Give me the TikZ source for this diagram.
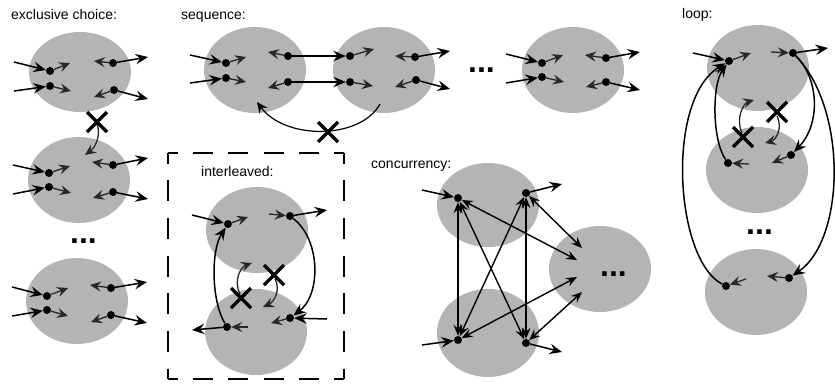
\documentclass[tikz,border=0pt]{standalone}
\usepackage{fontspec}
\setmainfont{Liberation Sans}
\usetikzlibrary{shapes.geometric,arrows.meta}
\definecolor{blobgray}{RGB}{179,181,179}
\definecolor{shortgray}{RGB}{40,40,40}
\tikzset{
  blob/.style={ellipse,fill=blobgray,inner sep=0pt,minimum width=102pt,minimum height=86pt},
  ptdot/.style={circle,fill=black,inner sep=0pt,minimum size=8pt},
  arr/.style={line width=1.5pt,-{Stealth[length=12.5pt,width=10.5pt,inset=4.5pt]}},
  sarr/.style={line width=1.3pt,draw=shortgray,-{Stealth[length=11pt,width=10pt,inset=4pt]}},
  barr/.style={line width=1.4pt,{Stealth[length=11pt,width=9pt,inset=4pt]}-{Stealth[length=11pt,width=9pt,inset=4pt]}},
  lbl/.style={font=\fontsize{14}{16}\selectfont,anchor=base west,inner sep=0pt},
  ellip/.style={font=\fontsize{32}{32}\selectfont\bfseries,anchor=base west,inner sep=0pt},
  xmark/.pic={\draw[line width=3.3pt] (-10,-10)--(10,10) (-10,10)--(10,-10);}
}
\begin{document}
\begin{tikzpicture}[x=1pt,y=-1pt]
\useasboundingbox (0,0) rectangle (835,383);
% ---------- blobs ----------
\node[blob,minimum height=80pt] (E1) at (80,72) {};
\node[blob] (E2) at (79,180) {};
\node[blob] (E3) at (77,301) {};
\node[blob] (S1) at (255,70) {};
\node[blob] (S2) at (384,70) {};
\node[blob] (S3) at (573,70) {};
\node[blob] (I1) at (257,230) {};
\node[blob] (I2) at (256,332) {};
\node[blob,minimum height=84pt] (C1) at (488,205) {};
\node[blob,minimum height=88pt] (C2) at (488,333) {};
\node[blob] (C3) at (600,269) {};
\node[blob] (L1) at (758,68) {};
\node[blob] (L2) at (757,170) {};
\node[blob] (L3) at (756,292) {};
% ---------- labels ----------
\node[lbl] (tEx) at (11,19) {exclusive choice:};
\node[lbl] (tSeq) at (181,19) {sequence:};
\node[lbl] (tLoop) at (682,18) {loop:};
\node[lbl] (tInt) at (201,176) {interleaved:};
\node[lbl] (tCon) at (371,168) {concurrency:};
\node[ellip] (dE) at (70,243) {...};
\node[ellip] (dS) at (468,72) {...};
\node[ellip] (dL) at (746,234) {...};
\node[ellip] (dC) at (600,276) {...};
% ---------- exclusive choice ----------
\node[ptdot] (a1) at (50,71) {};
\node[ptdot] (a2) at (50,86) {};
\node[ptdot] (a3) at (113,63) {};
\node[ptdot] (a4) at (114,90) {};
\coordinate (a1i) at (14,62); \coordinate (a2i) at (14,91);
\coordinate (a1o) at (70,63); \coordinate (a2o) at (71,91);
\coordinate (a3s) at (94,61); \coordinate (a4s) at (94,97);
\coordinate (a3o) at (148,57); \coordinate (a4o) at (148,99);
\draw[arr] (a1i) -- (a1); \draw[arr] (a2i) -- (a2);
\draw[sarr] (a1) -- (a1o); \draw[sarr] (a2) -- (a2o);
\draw[sarr] (a3) -- (a3s); \draw[sarr] (a4) -- (a4s);
\draw[arr] (a3) -- (a3o); \draw[arr] (a4) -- (a4o);
\coordinate (xeS) at (97,124); \coordinate (xeE) at (85,155);
\draw[sarr] (xeS) .. controls (101,134) and (96,147) .. (xeE);
\pic at (97,122) {xmark};
\node[ptdot] (b1) at (49,173) {};
\node[ptdot] (b2) at (49,187) {};
\node[ptdot] (b3) at (113,165) {};
\node[ptdot] (b4) at (113,192) {};
\coordinate (b1i) at (13,165); \coordinate (b2i) at (13,194);
\coordinate (b1o) at (70,166); \coordinate (b2o) at (71,193);
\coordinate (b3s) at (92,162); \coordinate (b4s) at (93,198);
\coordinate (b3o) at (148,158); \coordinate (b4o) at (148,199);
\draw[arr] (b1i) -- (b1); \draw[arr] (b2i) -- (b2);
\draw[sarr] (b1) -- (b1o); \draw[sarr] (b2) -- (b2o);
\draw[sarr] (b3) -- (b3s); \draw[sarr] (b4) -- (b4s);
\draw[arr] (b3) -- (b3o); \draw[arr] (b4) -- (b4o);
\node[ptdot] (c1) at (47,296) {};
\node[ptdot] (c2) at (47,310) {};
\node[ptdot] (c3) at (111,288) {};
\node[ptdot] (c4) at (111,315) {};
\coordinate (c1i) at (12,287); \coordinate (c2i) at (12,316);
\coordinate (c1o) at (68,288); \coordinate (c2o) at (68,316);
\coordinate (c3s) at (90,285); \coordinate (c4s) at (91,322);
\coordinate (c3o) at (147,282); \coordinate (c4o) at (147,323);
\draw[arr] (c1i) -- (c1); \draw[arr] (c2i) -- (c2);
\draw[sarr] (c1) -- (c1o); \draw[sarr] (c2) -- (c2o);
\draw[sarr] (c3) -- (c3s); \draw[sarr] (c4) -- (c4s);
\draw[arr] (c3) -- (c3o); \draw[arr] (c4) -- (c4o);
% ---------- sequence ----------
\node[ptdot] (s1) at (226,63) {};
\node[ptdot] (s2) at (226,78) {};
\node[ptdot] (s3) at (288,56) {};
\node[ptdot] (s4) at (288,82) {};
\node[ptdot] (t1) at (350,56) {};
\node[ptdot] (t2) at (350,82) {};
\node[ptdot] (t3) at (415,57) {};
\node[ptdot] (t4) at (416,80) {};
\node[ptdot] (u1) at (542,63) {};
\node[ptdot] (u2) at (542,77) {};
\node[ptdot] (u3) at (606,58) {};
\node[ptdot] (u4) at (606,82) {};
\coordinate (s1i) at (190,55); \coordinate (s2i) at (190,83);
\coordinate (s1o) at (246,57); \coordinate (s2o) at (246,82);
\coordinate (s3s) at (268,52); \coordinate (s4s) at (268,88);
\draw[arr] (s1i) -- (s1); \draw[arr] (s2i) -- (s2);
\draw[sarr] (s1) -- (s1o); \draw[sarr] (s2) -- (s2o);
\draw[sarr] (s3) -- (s3s); \draw[sarr] (s4) -- (s4s);
\draw[arr] (s3) -- (t1); \draw[arr] (s4) -- (t2);
\coordinate (t1o) at (374,49); \coordinate (t2o) at (373,86);
\coordinate (t3s) at (395,56); \coordinate (t4s) at (395,87);
\coordinate (t3o) at (450,51); \coordinate (t4o) at (450,89);
\draw[sarr] (t1) -- (t1o); \draw[sarr] (t2) -- (t2o);
\draw[sarr] (t3) -- (t3s); \draw[sarr] (t4) -- (t4s);
\draw[arr] (t3) -- (t3o); \draw[arr] (t4) -- (t4o);
\coordinate (sqS) at (380,104); \coordinate (sqE) at (257,102);
\draw[line width=1.2pt,-{Stealth[length=11pt,width=10pt,inset=4pt]}] (sqS) .. controls (360,140) and (285,140) .. (sqE);
\pic at (328,132) {xmark};
\coordinate (u1i) at (506,54); \coordinate (u2i) at (506,83);
\coordinate (u1o) at (563,55); \coordinate (u2o) at (564,82);
\coordinate (u3s) at (585,55); \coordinate (u4s) at (586,87);
\coordinate (u3o) at (640,52); \coordinate (u4o) at (640,90);
\draw[arr] (u1i) -- (u1); \draw[arr] (u2i) -- (u2);
\draw[sarr] (u1) -- (u1o); \draw[sarr] (u2) -- (u2o);
\draw[sarr] (u3) -- (u3s); \draw[sarr] (u4) -- (u4s);
\draw[arr] (u3) -- (u3o); \draw[arr] (u4) -- (u4o);
% ---------- interleaved ----------
\coordinate (bxA) at (168,153); \coordinate (bxB) at (344,153);
\coordinate (bxC) at (344,379); \coordinate (bxD) at (168,379);
\draw[line width=1.5pt,dash pattern=on 20pt off 15.2pt,dash phase=10pt] (bxA) -- (bxB);
\draw[line width=1.5pt,dash pattern=on 20pt off 15.2pt,dash phase=10pt] (bxD) -- (bxC);
\draw[line width=1.5pt,dash pattern=on 21pt off 16.67pt,dash phase=10.5pt] (bxA) -- (bxD);
\draw[line width=1.5pt,dash pattern=on 21pt off 16.67pt,dash phase=10.5pt] (bxB) -- (bxC);
\node[ptdot] (i1) at (228,224) {};
\node[ptdot] (i2) at (290,216) {};
\node[ptdot] (j1) at (227,327) {};
\node[ptdot] (j2) at (290,318) {};
\coordinate (i1i) at (192,215); \coordinate (i1o) at (248,217);
\coordinate (i2s) at (269,214); \coordinate (i2o) at (327,210);
\coordinate (j1s) at (248,327); \coordinate (j1o) at (192,330);
\coordinate (j2i) at (327,319); \coordinate (j2o) at (271,323);
\draw[arr] (i1i) -- (i1); \draw[sarr] (i1) -- (i1o);
\draw[sarr] (i2s) -- (i2); \draw[arr] (i2) -- (i2o);
\draw[sarr] (j1s) -- (j1); \draw[arr] (j1) -- (j1o);
\draw[arr] (j2i) -- (j2); \draw[sarr] (j2) -- (j2o);
\draw[arr] (j1) .. controls (211,300) and (211,250) .. (i1);
\draw[arr] (i2) .. controls (321,240) and (321,295) .. (j2);
\coordinate (ilS) at (240,294); \coordinate (ilE) at (252,263);
\coordinate (irS) at (275,279); \coordinate (irE) at (263,307);
\draw[sarr] (ilS) .. controls (233,280) and (241,267) .. (ilE);
\draw[sarr] (irS) .. controls (281,290) and (274,302) .. (irE);
\pic at (241,298) {xmark};
\pic at (274,275) {xmark};
% ---------- concurrency ----------
\node[ptdot] (p1) at (458,198) {};
\node[ptdot] (p2) at (526,193) {};
\node[ptdot] (q1) at (458,340) {};
\node[ptdot] (q2) at (526,343) {};
\coordinate (p1i) at (422,190); \coordinate (q1i) at (422,345);
\coordinate (p2o) at (562,184); \coordinate (q2o) at (562,352);
\coordinate (r1) at (577,260); \coordinate (r2) at (582,248);
\coordinate (r3) at (577,277); \coordinate (r4) at (582,292);
\draw[arr] (p1i) -- (p1); \draw[arr] (q1i) -- (q1);
\draw[arr] (p2) -- (p2o); \draw[arr] (q2) -- (q2o);
\draw[barr] (p1) -- (q1);
\draw[barr] (p2) -- (q2);
\draw[barr] (p1) -- (q2);
\draw[barr] (p2) -- (q1);
\draw[barr] (p1) -- (r1);
\draw[barr] (p2) -- (r2);
\draw[barr] (q1) -- (r3);
\draw[barr] (q2) -- (r4);
% ---------- loop ----------
\node[ptdot] (l1) at (729,61) {};
\node[ptdot] (l2) at (793,53) {};
\node[ptdot] (m1) at (728,163) {};
\node[ptdot] (m2) at (791,155) {};
\node[ptdot] (n1) at (726,286) {};
\node[ptdot] (n2) at (789,278) {};
\coordinate (l1i) at (693,53); \coordinate (l1o) at (751,53);
\coordinate (l2s) at (771,52); \coordinate (l2o) at (828,48);
\coordinate (m1s) at (749,164); \coordinate (m2o) at (772,163);
\coordinate (n1s) at (746,279); \coordinate (n2o) at (767,276);
\draw[arr] (l1i) -- (l1); \draw[sarr] (l1) -- (l1o);
\draw[sarr] (l2s) -- (l2); \draw[arr] (l2) -- (l2o);
\draw[sarr] (m1s) -- (m1); \draw[sarr] (m2) -- (m2o);
\draw[sarr] (n1s) -- (n1); \draw[sarr] (n2) -- (n2o);
\draw[arr] (m1) .. controls (712,140) and (712,85) .. (l1);
\draw[arr] (n1) .. controls (675,260) and (665,100) .. (l1);
\draw[arr] (l2) .. controls (820,80) and (820,125) .. (m2);
\draw[arr] (l2) .. controls (848,110) and (845,240) .. (n2);
\coordinate (llS) at (742,133); \coordinate (llE) at (754,100);
\coordinate (lrS) at (777,116); \coordinate (lrE) at (765,143);
\draw[sarr] (llS) .. controls (735,118) and (744,103) .. (llE);
\draw[sarr] (lrS) .. controls (783,128) and (776,140) .. (lrE);
\pic at (743,137) {xmark};
\pic at (777,112) {xmark};
\end{tikzpicture}
\end{document}
